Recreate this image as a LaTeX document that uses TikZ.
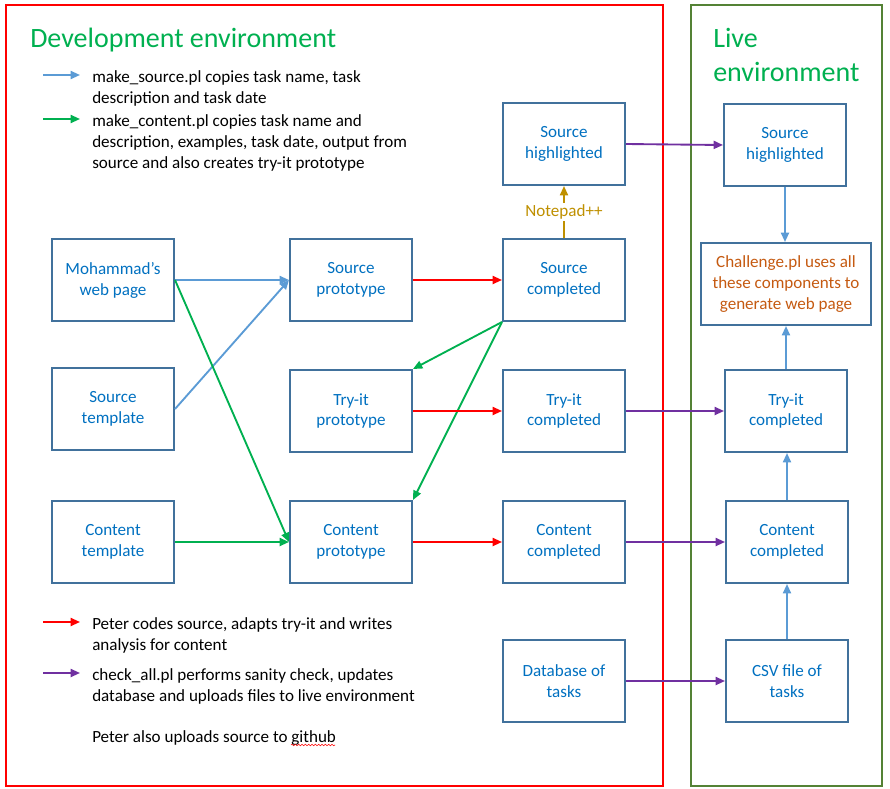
\documentclass[tikz,border=0pt]{standalone}
\usepackage{fontspec}
\setmainfont{Carlito}
\usetikzlibrary{arrows.meta,decorations.pathmorphing}
\usepackage{xcolor}
\definecolor{boxline}{HTML}{41719C}
\definecolor{boxtext}{HTML}{0070C0}
\definecolor{titlegreen}{HTML}{00B050}
\definecolor{framegreen}{HTML}{548235}
\definecolor{arrowblue}{HTML}{5B9BD5}
\definecolor{arrowgreen}{HTML}{00B050}
\definecolor{arrowpurple}{HTML}{7030A0}
\definecolor{notegold}{HTML}{BF9000}
\definecolor{challengeorange}{HTML}{C55A11}

\tikzset{
	box/.style={draw=boxline,line width=1.5pt,text=boxtext,minimum width=91.5pt,minimum height=61.5pt,
		align=center,inner sep=0pt,font=\fontsize{12.8}{15.75}\selectfont},
	flow/.style={line width=1.4pt,-{Triangle[length=7pt,width=6pt]}},
	legend/.style={anchor=north west,inner sep=0pt,align=left,font=\fontsize{12.8}{15.75}\selectfont},
	heading/.style={anchor=base west,inner sep=0pt,align=left,text=titlegreen,font=\fontsize{21}{25.5}\selectfont}
}

\begin{document}
\begin{tikzpicture}[x=0.75pt,y=-0.75pt]
	\useasboundingbox (0,0) rectangle (890,789);
	% frames
	\draw[red,line width=1.5pt] (6,5) rectangle (663,786);
	\draw[framegreen,line width=1.5pt] (691,5) rectangle (882,786);
	\node[heading] (devtitle) at (30,47) {Development environment};
	\node[heading] (livetitle) at (713,81) {Live\\environment};

	% legend
	\coordinate (lgblue) at (43,75);
	\coordinate (lggreen) at (43,119);
	\coordinate (lgred) at (43,622);
	\coordinate (lgpurple) at (43,673);
	\draw[flow,arrowblue] (lgblue) -- ++(37,0);
	\draw[flow,arrowgreen] (lggreen) -- ++(37,0);
	\draw[flow,red] (lgred) -- ++(37,0);
	\draw[flow,arrowpurple] (lgpurple) -- ++(37,0);
	\node[legend] (txblue) at (92,70) {make\_source.pl copies task name, task\\description and task date};
	\node[legend] (txgreen) at (92,114) {make\_content.pl copies task name and\\description, examples, task date, output from\\source and also creates try-it prototype};
	\node[legend] (txred) at (92,617) {Peter codes source, adapts try-it and writes\\analysis for content};
	\node[legend] (txpurple) at (92,668) {check\_all.pl performs sanity check, updates\\database and uploads files to live environment};
	\node[legend] (txgithub) at (92,730) {Peter also uploads source to github};
	\draw[red,line width=0.4pt,decorate,decoration={snake,amplitude=0.6pt,segment length=2.5pt}] (291,745) -- (335,745);

	% development boxes
	\node[box] (webpage) at (113,280) {Mohammad’s\\web page};
	\node[box] (srctemplate) at (113,409) {Source\\template};
	\node[box] (cnttemplate) at (113,542) {Content\\template};
	\node[box] (srcproto) at (351,280) {Source\\prototype};
	\node[box] (tryproto) at (351,411) {Try-it\\prototype};
	\node[box] (cntproto) at (351,542) {Content\\prototype};
	\node[box] (srchigh) at (564,144) {Source\\highlighted};
	\node[box] (srcdone) at (564,280) {Source\\completed};
	\node[box] (trydone) at (564,411) {Try-it\\completed};
	\node[box] (cntdone) at (564,542) {Content\\completed};
	\node[box] (database) at (564,681) {Database of\\tasks};

	% live boxes
	\node[box] (livehigh) at (785,145) {Source\\highlighted};
	\node[box,minimum width=127.5pt,text=challengeorange] (challenge) at (786,284) {Challenge.pl uses all\\these components to\\generate web page};
	\node[box] (livetry) at (786,411) {Try-it\\completed};
	\node[box] (livecnt) at (787,542) {Content\\completed};
	\node[box] (csvfile) at (787,681) {CSV file of\\tasks};

	% make_source.pl
	\draw[flow,arrowblue] (webpage.east) -- (srcproto.west);
	\draw[flow,arrowblue] (srctemplate.east) -- (srcproto.west);
	% make_content.pl
	\draw[flow,arrowgreen] (webpage.east) -- (cntproto.west);
	\draw[flow,arrowgreen] (cnttemplate.east) -- (cntproto.west);
	\draw[flow,arrowgreen] (srcdone.south west) -- (tryproto.north east);
	\draw[flow,arrowgreen] (srcdone.south west) -- (cntproto.north east);
	% Peter
	\draw[flow,red] (srcproto) -- (srcdone);
	\draw[flow,red] (tryproto) -- (trydone);
	\draw[flow,red] (cntproto) -- (cntdone);
	\draw[flow,notegold] (srcdone) -- (srchigh) node[midway,fill=white,inner sep=1pt,text=notegold,font=\fontsize{12.8}{14}\selectfont] {Notepad++};
	% check_all.pl
	\draw[flow,arrowpurple] (srchigh.east) -- (livehigh.west);
	\draw[flow,arrowpurple] (trydone) -- (livetry);
	\draw[flow,arrowpurple] (cntdone) -- (livecnt);
	\draw[flow,arrowpurple] (database) -- (csvfile);
	% live
	\draw[flow,arrowblue] (livehigh) -- (livehigh|-challenge.north);
	\draw[flow,arrowblue] (livetry) -- (livetry|-challenge.south);
	\draw[flow,arrowblue] (livecnt) -- (livecnt|-livetry.south);
	\draw[flow,arrowblue] (csvfile) -- (csvfile|-livecnt.south);
\end{tikzpicture}
\end{document}
